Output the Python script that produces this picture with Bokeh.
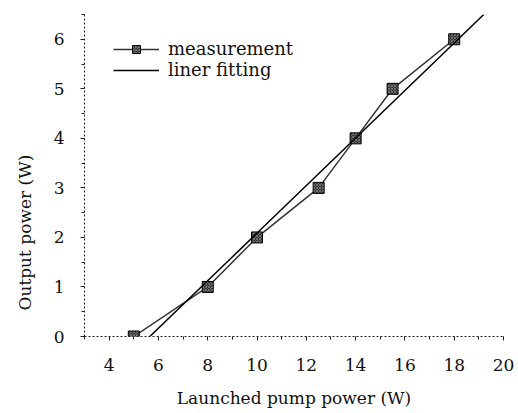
from bokeh.plotting import figure
from bokeh.embed import file_html
from bokeh.resources import INLINE
from bokeh.models import Range1d, FixedTicker, Legend, LegendItem, Title

# data
pump = [5, 8, 10, 12.5, 14, 15.5, 18]
output = [0, 1, 2, 3, 4, 5, 6]
fit_x = [5.65, 19.2]
fit_y = [0.0, 6.5]
x_ticks = [4, 6, 8, 10, 12, 14, 16, 18, 20]
x_minor = list(range(3, 21))
y_ticks = [0, 1, 2, 3, 4, 5, 6]
y_minor = [0, 0.5, 1, 1.5, 2, 2.5, 3, 3.5, 4, 4.5, 5, 5.5, 6, 6.5]
y_title = "Output power (W)"
x_title = "Launched pump power (W)"

FONT = "DejaVu Serif"
INK = "#111111"

p = figure(width=516, height=411, output_backend="svg", toolbar_location=None,
           x_range=Range1d(3, 20), y_range=Range1d(0, 6.5),
           min_border_left=83, min_border_right=13, min_border_top=14, min_border_bottom=75)
p.outline_line_color = None
p.xgrid.visible = False
p.ygrid.visible = False

r_line = p.line(pump, output, line_color="#333333", line_width=1.5)
r_pts = p.scatter(pump, output, marker="square", size=11, fill_color="#333333",
                  line_color="black", line_width=1,
                  hatch_pattern="x", hatch_color="#999999", hatch_scale=3, hatch_weight=0.6)
r_fit = p.line(fit_x, fit_y, line_color="black", line_width=1.5)

for ax in (p.xaxis[0], p.yaxis[0]):
    ax.axis_line_dash = "2 2"
    ax.axis_line_color = "#222222"
    ax.axis_line_width = 1
    ax.major_tick_in = 0
    ax.major_tick_out = 4
    ax.minor_tick_in = 0
    ax.minor_tick_out = 3
    ax.major_tick_line_color = "#222222"
    ax.minor_tick_line_color = "#222222"
    ax.major_label_text_font = FONT
    ax.major_label_text_font_size = "17px"
    ax.major_label_text_color = INK
    ax.axis_label_text_font = FONT
    ax.axis_label_text_font_size = "17px"
    ax.axis_label_text_font_style = "normal"
    ax.axis_label_text_color = INK

p.xaxis.ticker = FixedTicker(ticks=x_ticks, minor_ticks=x_minor)
p.yaxis.ticker = FixedTicker(ticks=y_ticks, minor_ticks=y_minor)
p.xaxis.major_label_standoff = 18
p.yaxis.major_label_standoff = 16
p.xaxis.axis_label = x_title
p.xaxis.axis_label_standoff = 14

# y-axis title, placed slightly below the frame centre as in the reference
ytitle = Title(text=y_title, align="left", vertical_align="top", offset=26, standoff=28,
               text_font=FONT, text_font_size="17px", text_font_style="normal",
               text_color=INK)
p.add_layout(ytitle, "left")

legend = Legend(items=[LegendItem(label="measurement", renderers=[r_line, r_pts]),
                       LegendItem(label="liner fitting", renderers=[r_fit])],
                location=(29, 256))
legend.border_line_color = None
legend.background_fill_alpha = 0
legend.label_text_font = FONT
legend.label_text_font_size = "18px"
legend.label_text_color = INK
legend.glyph_width = 46
legend.glyph_height = 20
legend.label_height = 20
legend.spacing = 0
legend.label_standoff = 9
legend.margin = 0
legend.padding = 6
p.add_layout(legend)

open("out.html", "w").write(file_html(p, INLINE))
